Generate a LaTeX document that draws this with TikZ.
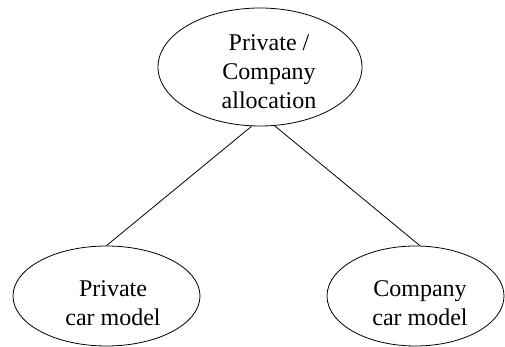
\documentclass[tikz,border=0pt]{standalone}
\usepackage{fontspec}
\setmainfont{Liberation Serif}
\usetikzlibrary{shapes.geometric,calc}

\tikzset{
  oval/.style={ellipse, draw=black, line width=0.8pt, inner sep=0pt},
  caption/.style={align=center, inner sep=0pt, font=\fontsize{24}{29}\selectfont},
  link/.style={draw=black, line width=0.8pt}
}

\begin{document}
\begin{tikzpicture}[x=1pt, y=-1pt]
  \useasboundingbox (0,0) rectangle (505,347);

  % ellipses
  \node[oval, minimum width=204pt, minimum height=118pt] (alloc) at (260,67) {};
  \node[oval, minimum width=187pt, minimum height=100pt] (priv) at (106.5,296) {};
  \node[oval, minimum width=177pt, minimum height=100pt] (comp) at (415.5,296) {};

  % captions
  \node[caption] (allocText) at ($(alloc.center)+(9,5)$) {Private /\\Company\\allocation};
  \node[caption] (privText) at ($(priv.center)+(6.5,7)$) {Private\\car model};
  \node[caption] (compText) at ($(comp.center)+(4.5,7)$) {Company\\car model};

  % connectors
  \draw[link] (alloc.262) -- (priv.north);
  \draw[link] (alloc.284) -- (comp.85);
\end{tikzpicture}
\end{document}
